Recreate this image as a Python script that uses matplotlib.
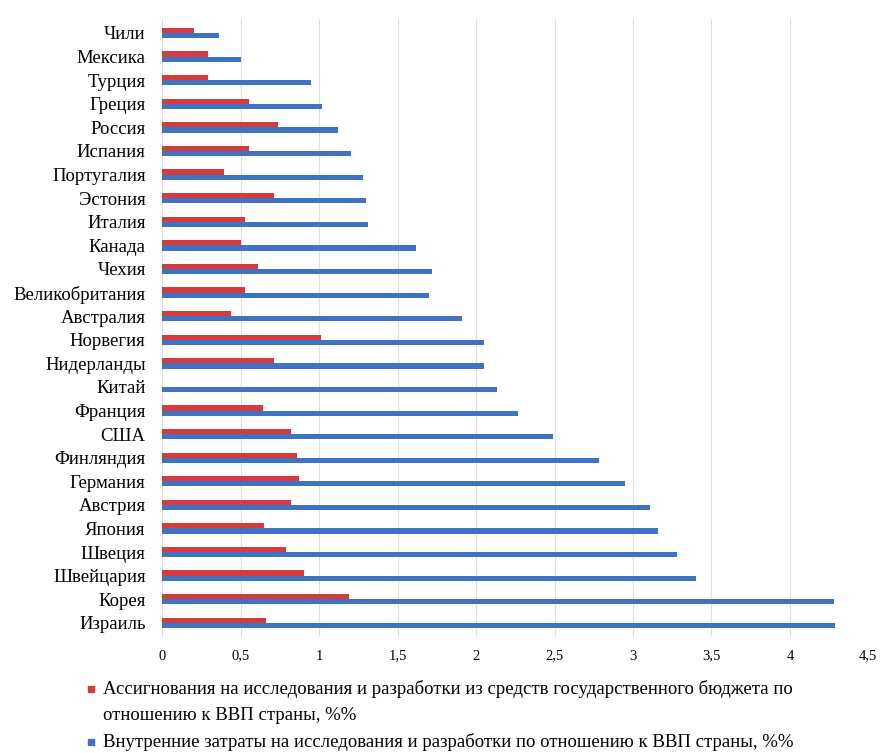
import matplotlib
matplotlib.use("Agg")
import matplotlib.pyplot as plt
from matplotlib.lines import Line2D
import numpy as np

plt.rcParams['font.family'] = ['Liberation Serif', 'DejaVu Serif']

countries = ["Чили", "Мексика", "Турция", "Греция", "Россия", "Испания", "Португалия",
             "Эстония", "Италия", "Канада", "Чехия", "Великобритания", "Австралия",
             "Норвегия", "Нидерланды", "Китай", "Франция", "США", "Финляндия",
             "Германия", "Австрия", "Япония", "Швеция", "Швейцария", "Корея", "Израиль"]
budget = [0.20, 0.29, 0.29, 0.55, 0.74, 0.55, 0.39, 0.71, 0.53, 0.50, 0.61, 0.53, 0.44,
          1.01, 0.71, 0.0, 0.64, 0.82, 0.86, 0.87, 0.82, 0.65, 0.79, 0.90, 1.19, 0.66]
internal = [0.36, 0.50, 0.95, 1.02, 1.12, 1.20, 1.28, 1.30, 1.31, 1.62, 1.72, 1.70, 1.91,
            2.05, 2.05, 2.13, 2.27, 2.49, 2.78, 2.95, 3.11, 3.16, 3.28, 3.40, 4.28, 4.29]
xticks = [0, 0.5, 1, 1.5, 2, 2.5, 3, 3.5, 4, 4.5]
xticklabels = ["0", "0,5", "1", "1,5", "2", "2,5", "3", "3,5", "4", "4,5"]
label_budget = ("Ассигнования на исследования и разработки из средств государственного бюджета по\n"
                "отношению к ВВП страны, %%")
label_internal = "Внутренние затраты на исследования и разработки по отношению к ВВП страны, %%"

red = "#D63B3B"
blue = "#3F72C2"

W, H = 887, 753
fig = plt.figure(figsize=(W / 100, H / 100), dpi=100)
ax = fig.add_axes([0.183, 0.154, 0.796, 0.821])

y = np.arange(len(countries))
h = 0.22
ax.barh(y - h / 2, budget, height=h, color=red, zorder=3)
ax.barh(y + h / 2, internal, height=h, color=blue, zorder=3)

ax.set_xlim(0, 4.5)
ax.set_ylim(len(countries) - 0.4, -0.6)
ax.set_yticks(y)
ax.set_yticklabels(countries, fontsize=13.5)
ax.set_xticks(xticks)
ax.set_xticklabels(xticklabels, fontsize=10.5)
ax.tick_params(axis='y', length=0, pad=12)
ax.tick_params(axis='x', length=0, pad=9)
ax.grid(axis='x', color='#E0E0E0', linewidth=0.8, zorder=0)
for s in ax.spines.values():
    s.set_visible(False)

# legend drawn manually (marker aligned with first text line)
entries = [(red, label_budget, 689), (blue, label_internal, 742)]
for color, text, yc in entries:
    fig.add_artist(Line2D([91 / W], [1 - yc / H], marker='s', linestyle='none',
                          color=color, markersize=4.5, transform=fig.transFigure))
    fig.text(103 / W, 1 - (yc - 9) / H, text, fontsize=13.5, ha='left', va='top',
             linespacing=1.72)

fig.savefig("out.png", dpi=100)
